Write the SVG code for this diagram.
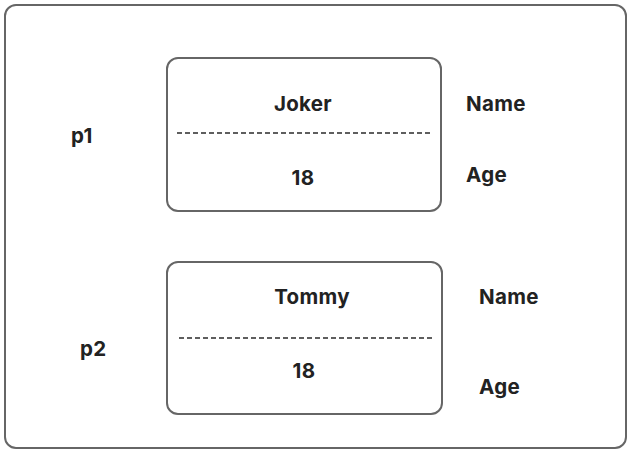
<svg xmlns="http://www.w3.org/2000/svg" width="635" height="453" viewBox="0 0 635 453">
  <style>
    .frame { fill: #ffffff; stroke: #666666; stroke-width: 2; }
    .box { fill: #ffffff; stroke: #666666; stroke-width: 2; }
    .sep { stroke: #2a2a2a; stroke-width: 1.5; stroke-dasharray: 5 3; fill: none; }
    text { font-family: Inter, "Liberation Sans", sans-serif; font-weight: 700; font-size: 20.5px; letter-spacing: 0.3px; fill: #222222; }
    .c { text-anchor: middle; }
  </style>
  <rect width="635" height="453" fill="#ffffff"/>
  <rect class="frame" x="5" y="5" width="621" height="443" rx="11"/>

  <g id="p1">
    <text x="71" y="143">p1</text>
    <g id="p1-object">
      <rect class="box" x="167" y="58" width="274" height="153" rx="11"/>
      <line class="sep" x1="177" y1="133" x2="432" y2="133"/>
      <text class="c" x="303" y="111">Joker</text>
      <text class="c" x="303" y="185">18</text>
    </g>
    <text x="466" y="111">Name</text>
    <text x="466" y="182">Age</text>
  </g>

  <g id="p2">
    <text x="80" y="356">p2</text>
    <g id="p2-object">
      <rect class="box" x="167" y="262" width="275" height="152" rx="11"/>
      <line class="sep" x1="179" y1="338" x2="435" y2="338"/>
      <text class="c" x="312" y="304">Tommy</text>
      <text class="c" x="304" y="378">18</text>
    </g>
    <text x="479" y="304">Name</text>
    <text x="479" y="394">Age</text>
  </g>

  <g id="connectors"></g>
</svg>
